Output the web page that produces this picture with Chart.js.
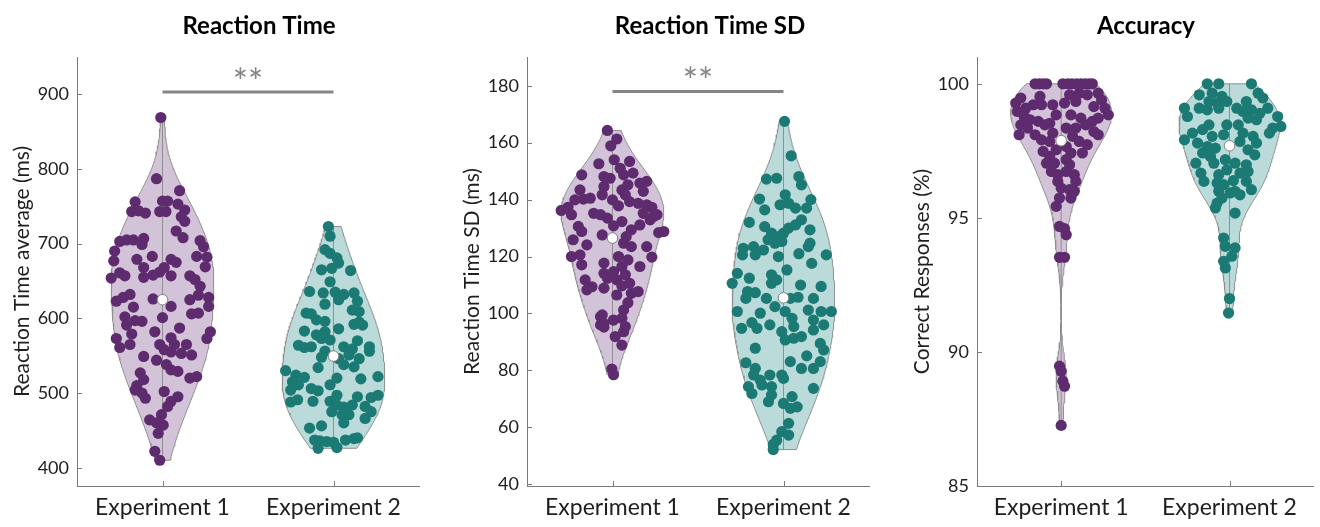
<!DOCTYPE html>
<html>
<head>
<meta charset="utf-8">
<title>Reaction time, SD and accuracy</title>
<script src="https://cdn.jsdelivr.net/npm/chart.js@4.4.1/dist/chart.umd.min.js"></script>
<style>
  body { margin: 0; background: #fff; }
  .panel { position: absolute; top: 0; width: 440px; height: 527px; }
</style>
</head>
<body>
<div class="panel" style="left:0"><canvas id="rtChart" width="440" height="527"></canvas></div>
<div class="panel" style="left:440px"><canvas id="sdChart" width="440" height="527"></canvas></div>
<div class="panel" style="left:880px"><canvas id="accChart" width="440" height="527"></canvas></div>
<script>
var groupNames = ['Experiment 1', 'Experiment 2'];

var rtTicks = [400, 500, 600, 700, 800, 900];
var sdTicks = [40, 60, 80, 100, 120, 140, 160, 180];
var accTicks = [85, 90, 95, 100];

// reaction time average (ms), one value per participant, plus horizontal jitter (category units)
var rtExp1 = [869,787,771,756,757,757,753,743,744,741, 743,743,745,736,730,717,708,703,705,705,
	707,699,704,696,690,683,679,683,682,669, 677,679,675,668,668,662,658,657,655,657,
	652,643,654,661,657,623,628,632,626,625, 631,628,616,616,606,607,615,602,597,596,
	591,601,582,582,573,573,561,565,579,587, 574,565,565,558,555,553,565,551,549,544,
	538,531,529,520,522,527,518,504,500,493, 510,502,495,489,482,464,460,471,457,446, 422,410];
var rtExp1Jit = [-0.01,-0.035,0.10,-0.16,0.00,0.03,0.09,-0.18,-0.14,-0.10, -0.016,0.02,0.13,0.11,0.13,0.08,0.12,-0.25,-0.21,-0.17,
	-0.11,-0.12,0.22,0.24,-0.28,-0.06,-0.15,0.20,0.26,0.25, -0.285,0.05,0.08,-0.11,0.01,-0.016,-0.055,0.05,-0.11,0.16,
	0.19,0.22,-0.30,-0.25,-0.22,-0.27,-0.23,-0.19,-0.055,0.16, 0.21,0.27,0.27,0.05,0.17,0.21,-0.17,-0.22,-0.16,-0.12,
	-0.21,0.00,-0.045,0.28,0.26,-0.27,-0.25,-0.19,-0.18,0.10, 0.05,0.07,-0.016,0.01,0.05,0.11,0.14,0.17,-0.11,-0.035,
	0.023,0.05,0.09,0.16,0.20,-0.13,-0.11,-0.16,-0.12,-0.10, -0.15,0.01,0.09,0.05,0.03,-0.075,-0.035,-0.006,0.004,-0.025, -0.045,-0.016];
var rtExp2 = [723,710,692,687,681,674,665,664,667,649, 636,634,635,632,634,623,625,619,611,609,
	607,606,598,596,595,591,592,583,586,582, 578,573,571,570,564,561,562,562,559,562,
	556,556,551,548,546,546,538,535,534,530, 524,521,515,511,520,519,522,511,506,503,
	504,497,495,494,497,491,488,489,489,484, 481,484,482,475,475,471,471,466,460,453,
	456,437,436,435,434,437,439,440,426,427];
var rtExp2Jit = [-0.03,-0.02,-0.05,-0.02,0.02,0.03,-0.07,0.10,-0.01,-0.02, -0.14,-0.06,0.01,0.06,0.12,0.14,0.03,-0.05,0.11,0.15,
	-0.16,-0.13,-0.10,-0.05,0.15,0.17,0.12,-0.17,0.03,-0.05, -0.10,-0.07,-0.02,0.14,-0.205,-0.17,-0.13,0.06,0.11,0.21,
	0.21,-0.05,0.09,-0.07,0.03,0.15,0.06,0.12,-0.09,-0.28, -0.22,-0.17,-0.24,-0.205,0.02,0.16,0.26,-0.02,-0.13,-0.09,
	-0.25,0.02,0.14,0.22,0.26,-0.21,-0.25,-0.12,-0.02,0.02, 0.06,0.11,0.185,0.22,-0.01,0.05,0.09,0.185,0.06,-0.14,
	-0.07,-0.11,-0.08,-0.04,0.00,0.07,0.12,0.14,-0.09,0.02];
var rtMedian = [625, 549.5];
var rtSig = 903;

// reaction time SD (ms)
var sdExp1 = [164.3,161.3,158.9,152.6,153.4,154,151,148.7,148.1,147.5, 148.7,149.3,145.8,146.4,145.2,143.4,144.6,143.4,141.7,142.9,
	141.7,139.9,140.2,140.5,139.9,139.3,137.8,138.7,138.2,137.3, 136.2,137.3,134.7,135.2,134.7,135.2,134.1,132.9,134.7,133.5,
	132.3,130.8,130.6,128.8,131.1,128.4,128.8,129.4,127.6,127, 124.7,125.9,124.1,123.5,123.5,120,120.6,120,118.8,119.8,
	117.7,116.5,116.5,117.1,114.1,114.7,113.6,112.4,111.8,111.8, 110.6,109.4,109.7,108.9,107.1,107.7,108.3,106.5,103.8,101.2,
	98.9,98.3,96.5,95.4,97.7,93.6,91.9,88.9,80.5,78.5, 96,95.2,99.5];
var sdExp1Jit = [-0.03,0.025,-0.01,-0.08,0.10,0.01,0.045,-0.18,-0.05,-0.014, 0.065,0.12,0.16,0.20,0.09,-0.19,-0.05,0.055,0.075,0.18,
	-0.06,-0.22,-0.17,-0.13,0.00,0.10,0.035,0.15,0.20,0.23, -0.30,-0.26,-0.24,-0.11,-0.07,0.18,0.24,0.22,0.26,-0.03,
	0.055,0.006,-0.20,-0.18,0.16,0.27,0.30,0.11,-0.06,0.08, 0.065,-0.23,-0.15,0.11,0.20,-0.24,-0.19,0.035,0.09,0.23,
	-0.05,0.055,0.16,-0.18,-0.05,0.006,0.075,-0.03,0.025,-0.16, 0.10,-0.12,0.055,-0.05,0.11,0.15,-0.15,0.025,0.09,0.065,
	-0.07,0.055,-0.05,0.075,0.006,0.065,0.016,0.055,-0.004,0.006, -0.07,-0.05,-0.06];
var sdExp2 = [167.5,155.4,147.2,147.5,148.1,145.2,140,140.2,141.7,136.4, 138.2,138.7,137,137,132,130.5,132.9,131.1,130,129.4,
	128.2,127,128.2,125.9,124.7,125.3,124.7,123.5,122.9,123.5, 122.3,120.6,120.6,120,121,120.6,117.6,115.3,114.1,112.4,
	110.6,113.6,111.8,110,109.5,110.6,107.7,107.3,105.3,105.3, 105.7,105.3,105.3,102.4,101.2,100.7,100.7,100.7,100.1,100.7,
	98.3,97.7,96.8,96,96,94.8,94.8,95.4,94.2,93.6, 90.7,91.3,91.9,89.5,87.2,87.8,85.1,82.7,83.1,80.7,
	80.7,83.1,80.7,78.4,76.6,78.4,78.4,74.3,71.9,74.3, 74.9,77.2,73.7,71.4,69,70.8,67.2,68.4,66.7,61.4,
	58.5,57.3,55.5,54,52.2];
var sdExp2Jit = [0.006,0.045,-0.10,-0.04,0.09,0.105,0.16,-0.14,0.01,-0.11, -0.02,0.03,0.07,0.135,-0.20,-0.11,0.105,0.07,0.03,0.155,
	-0.07,-0.03,0.00,-0.09,-0.05,-0.01,0.155,0.145,-0.235,-0.175, -0.117,-0.165,-0.24,-0.03,0.09,0.25,0.165,0.02,-0.27,-0.20,
	-0.30,-0.07,-0.04,0.10,0.22,-0.07,-0.21,-0.165,-0.10,0.04, 0.085,0.175,-0.22,-0.05,0.145,0.22,0.28,-0.27,-0.136,0.01,
	0.05,0.175,-0.185,-0.08,0.235,-0.245,-0.155,0.06,0.175,-0.01, 0.01,0.06,0.105,0.215,0.235,-0.165,0.136,-0.22,0.04,-0.165,
	0.105,0.215,0.175,-0.175,-0.136,-0.08,-0.01,-0.205,-0.185,-0.07, -0.126,0.00,0.175,-0.07,-0.088,0.05,0.08,0.00,0.04,0.03,
	-0.01,0.03,-0.04,-0.06,-0.06];
var sdMedian = [126.5, 105.5];
var sdSig = 178;

// correct responses (%)
var accExp1 = [100,100,100,100,100,100,100,100,100,100,100,100,
	99.28,99.47,99.09,99.53,99.22,99.22,99.59,99.65,99.59,99.65, 99.40,99.34,99.28,99.22,99.15,99.09,98.84,98.97,98.78,98.66,
	98.60,98.47,98.35,98.47,98.10,98.53,98.84,98.84,98.72,98.60, 98.72,98.47,98.35,98.35,98.22,98.10,98.10,97.91,97.85,98.04,
	97.85,97.73,98.16,97.48,97.29,97.54,97.66,97.42,97.42,97.04, 97.04,97.17,96.98,96.73,96.61,96.73,96.61,96.36,96.36,96.11,
	96.05,95.99,95.74,95.74,95.43,94.68,94.60,94.37,93.53,93.53, 89.47,89.28,88.91,88.72,87.26];
var accExp1Jit = [-0.155,-0.13,-0.107,-0.087,0.01,0.04,0.064,0.091,0.117,0.142,0.165,0.185,
	-0.27,-0.24,-0.21,-0.126,-0.117,-0.165,0.05,0.107,0.155,0.22, 0.24,0.087,0.02,-0.05,0.194,0.26,0.28,-0.26,-0.22,-0.185,
	-0.136,-0.24,-0.20,-0.097,-0.155,-0.068,-0.03,0.058,0.117,0.185, 0.22,0.146,0.087,0.03,0.194,0.22,-0.25,-0.117,-0.068,0.068,
	0.107,0.155,-0.05,-0.107,-0.068,-0.03,0.03,0.058,0.126,-0.087, -0.04,0.03,0.05,-0.058,-0.02,0.03,0.078,0.087,-0.02,0.00,
	0.05,0.078,0.058,-0.01,-0.03,-0.01,0.02,0.03,-0.01,0.02, -0.01,0.00,0.01,0.02,0.00];
var accExp2 = [100,100,100,
	99.59,99.65,99.53,99.65,99.47,99.34,99.28,99.34,99.34,99.09, 99.09,98.78,99.09,99.03,99.09,99.09,98.97,99.03,98.90,98.78,
	98.41,98.35,98.16,98.66,98.72,98.47,98.47,98.47,98.29,98.16, 97.91,98.04,98.10,98.16,98.04,97.79,97.79,97.66,97.60,97.85,
	97.54,97.35,97.42,97.29,97.04,97.04,97.17,97.04,96.98,96.67, 96.61,96.79,96.67,96.73,96.36,96.30,96.24,96.39,96.36,96.05,
	95.99,95.99,95.86,95.74,95.93,95.55,95.37,95.18,94.25,93.94, 93.88,93.57,93.38,93.13,91.99,91.45];
var accExp2Jit = [-0.132,-0.064,0.13,
	-0.18,-0.103,-0.045,0.17,0.198,-0.122,-0.074,-0.016,0.10,0.227, -0.268,-0.25,-0.18,-0.132,-0.064,0.043,0.08,0.13,0.18,0.286,
	0.305,0.257,0.237,0.16,0.11,0.052,-0.122,-0.016,-0.16,-0.22, -0.268,-0.103,-0.035,0.08,0.14,0.16,-0.19,-0.132,-0.084,0.062,
	0.11,0.15,-0.16,-0.113,-0.2,-0.093,-0.025,0.033,0.10,-0.17, -0.064,-0.016,0.062,0.11,-0.152,-0.074,-0.035,0.023,0.10,0.13,
	-0.064,0.033,0.062,-0.045,0.004,-0.074,-0.084,0.033,-0.035,-0.025, 0.033,0.014,-0.035,-0.025,0.00,-0.006];
var accMedian = [97.88, 97.69];

var sigLabel = '**';

var dotCol = ['#5e2b6e', '#1b7a74'];
var fillCol = ['#d3c3d8', '#badbd9'];
var edgeCol = '#8f8f8f';
var axisCol = '#7a7a7a';
var sigCol = '#858585';
var txtCol = '#1e1e1e';
var fontFam = 'Lato';

Chart.defaults.font.family = fontFam;
Chart.defaults.color = txtCol;

function median(arr){
	var s = arr.slice().sort(function(a, b){ return a - b; });
	var m = Math.floor(s.length / 2);
	return s.length % 2 ? s[m] : (s[m - 1] + s[m]) / 2;
}

// kernel density outline, clipped at min/max of data, widest point = 0.3
function violinOutline(vals, pos){
	var n = vals.length;
	var med = median(vals);
	var sig = median(vals.map(function(v){ return Math.abs(v - med); })) / 0.6745;
	var bw = sig * Math.pow(4 / (3 * n), 0.2);
	var lo = Math.min.apply(null, vals), hi = Math.max.apply(null, vals);
	var ys = [], ds = [];
	for (var i = 0; i <= 120; i++){
		var y = lo + (hi - lo) * i / 120, d = 0;
		for (var j = 0; j < n; j++){
			var z = (y - vals[j]) / bw;
			d += Math.exp(-0.5 * z * z);
		}
		ys.push(y);
		ds.push(d);
	}
	var mx = Math.max.apply(null, ds);
	var right = ys.map(function(y, k){ return {x: pos + ds[k] / mx * 0.3, y: y}; });
	var left = ys.map(function(y, k){ return {x: pos - ds[k] / mx * 0.3, y: y}; }).reverse();
	return right.concat(left, [right[0]]);
}

var decor = {
	id: 'decor',
	afterDraw: function(chart, args, o){
		var ctx = chart.ctx, a = chart.chartArea, xs = chart.scales.x, ys = chart.scales.y;
		ctx.save();
		ctx.strokeStyle = axisCol;
		ctx.lineWidth = 1;
		ctx.beginPath();
		ys.ticks.forEach(function(t){
			var p = Math.round(ys.getPixelForValue(t.value)) + 0.5;
			ctx.moveTo(a.left, p); ctx.lineTo(a.left + 5, p);
		});
		xs.ticks.forEach(function(t){
			var p = Math.round(xs.getPixelForValue(t.value)) + 0.5;
			ctx.moveTo(p, a.bottom); ctx.lineTo(p, a.bottom - 5);
		});
		ctx.stroke();

		ctx.fillStyle = '#000';
		ctx.font = 'bold 24px ' + fontFam;
		ctx.textAlign = 'center';
		ctx.textBaseline = 'alphabetic';
		ctx.fillText(o.title, o.titleX, 34);

		if (o.sig != null){
			// asterisks sit above the bar
			ctx.fillStyle = sigCol;
			ctx.font = '36px ' + fontFam;
			ctx.fillText(sigLabel, xs.getPixelForValue(1.5), ys.getPixelForValue(o.sig) + 3);
		}
		ctx.restore();
	}
};

function makePanel(id, p){
	var datasets = [];
	p.groups.forEach(function(g, i){
		var pos = i + 1;
		datasets.push({
			data: violinOutline(g.vals, pos), showLine: true, fill: 'shape',
			backgroundColor: fillCol[i], borderColor: edgeCol, borderWidth: 1, pointRadius: 0, order: 5
		});
		datasets.push({
			data: [{x: pos, y: Math.min.apply(null, g.vals)}, {x: pos, y: Math.max.apply(null, g.vals)}],
			showLine: true, borderColor: edgeCol, borderWidth: 1, pointRadius: 0, order: 4
		});
		datasets.push({
			data: g.vals.map(function(v, k){ return {x: pos + (g.jit[k] || 0), y: v}; }),
			pointRadius: 5.6, backgroundColor: dotCol[i], borderWidth: 0, order: 3
		});
		datasets.push({
			data: [{x: pos, y: g.med}],
			pointRadius: 5.3, backgroundColor: '#fff', borderColor: '#808080', borderWidth: 1, order: 1
		});
	});
	if (p.sig != null){
		datasets.push({
			data: [{x: 1, y: p.sig}, {x: 2, y: p.sig}], showLine: true,
			borderColor: sigCol, borderWidth: 3, pointRadius: 0, order: 0
		});
	}

	return new Chart(document.getElementById(id), {
		type: 'scatter',
		data: {datasets: datasets},
		options: {
			responsive: false,
			animation: false,
			events: [],
			layout: {padding: {left: 0, right: p.padRight, top: 57, bottom: 0}},
			plugins: {
				legend: {display: false},
				tooltip: {enabled: false},
				decor: {title: p.title, titleX: p.titleX, sig: p.sig}
			},
			scales: {
				x: {
					type: 'linear', min: 0.5, max: 2.5,
					grid: {display: false, drawTicks: false},
					border: {color: axisCol, width: 1},
					afterBuildTicks: function(sc){ sc.ticks = [{value: 1}, {value: 2}]; },
					afterFit: function(sc){ sc.height = 41; },
					ticks: {
						padding: 8, color: txtCol, font: {size: 23},
						callback: function(v, idx){ return groupNames[idx]; }
					}
				},
				y: {
					min: p.min, max: p.max,
					grid: {display: false, drawTicks: false},
					border: {color: axisCol, width: 1},
					afterBuildTicks: function(sc){ sc.ticks = p.ticks.map(function(v){ return {value: v}; }); },
					afterFit: function(sc){ sc.width = p.axisLeft; },
					ticks: {padding: 8, color: txtCol, font: {size: 18}},
					title: {display: true, text: p.yTitle, color: txtCol, font: {size: 21}, padding: {top: p.titlePad, bottom: 0}}
				}
			}
		},
		plugins: [decor]
	});
}

makePanel('rtChart', {
	title: 'Reaction Time', titleX: 259, yTitle: 'Reaction Time average (ms)',
	min: 375.5, max: 950, ticks: rtTicks, axisLeft: 77, padRight: 21, titlePad: 10,
	sig: rtSig,
	groups: [{vals: rtExp1, jit: rtExp1Jit, med: rtMedian[0]}, {vals: rtExp2, jit: rtExp2Jit, med: rtMedian[1]}]
});
makePanel('sdChart', {
	title: 'Reaction Time SD', titleX: 270, yTitle: 'Reaction Time SD (ms)',
	min: 39.4, max: 190.1, ticks: sdTicks, axisLeft: 87, padRight: 11, titlePad: 20,
	sig: sdSig,
	groups: [{vals: sdExp1, jit: sdExp1Jit, med: sdMedian[0]}, {vals: sdExp2, jit: sdExp2Jit, med: sdMedian[1]}]
});
makePanel('accChart', {
	title: 'Accuracy', titleX: 266, yTitle: 'Correct Responses (%)',
	min: 85, max: 101, ticks: accTicks, axisLeft: 97, padRight: 2, titlePad: 30,
	sig: null,
	groups: [{vals: accExp1, jit: accExp1Jit, med: accMedian[0]}, {vals: accExp2, jit: accExp2Jit, med: accMedian[1]}]
});
</script>
</body>
</html>
